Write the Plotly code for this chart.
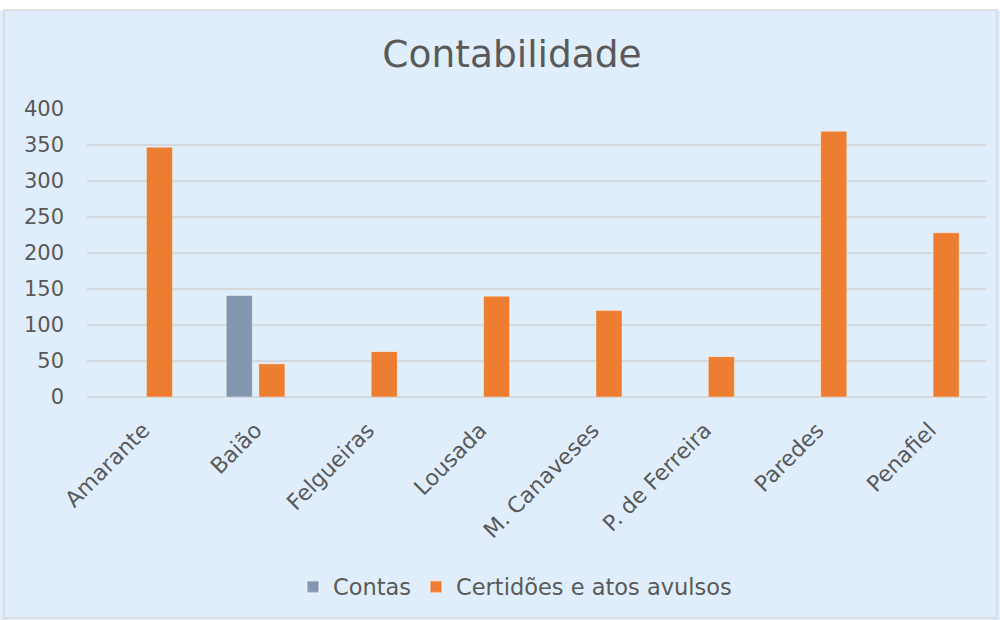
import plotly.graph_objects as go

categories = ["Amarante", "Baião", "Felgueiras", "Lousada", "M. Canaveses",
              "P. de Ferreira", "Paredes", "Penafiel"]
contas = [None, 141, None, None, None, None, None, None]
certidoes = [347, 46, 63, 140, 120, 56, 369, 228]
y_ticks = [0, 50, 100, 150, 200, 250, 300, 350, 400]

FONT = "DejaVu Sans, Century Gothic, sans-serif"
TXT = "#595959"
BG = "#E0EEFB"

fig = go.Figure()
fig.add_trace(go.Bar(name="Contas", x=categories, y=contas,
                     marker=dict(color="#8497B0", line=dict(color="rgba(255,255,255,0.4)", width=1))))
fig.add_trace(go.Bar(name="Certidões e atos avulsos", x=categories, y=certidoes,
                     marker=dict(color="#ED7D31", line=dict(color="rgba(255,255,255,0.4)", width=1))))

fig.update_layout(
    width=1000, height=620,
    margin=dict(l=87, r=14, t=109, b=223),
    paper_bgcolor=BG, plot_bgcolor=BG,
    barmode="group", bargap=0.42, bargroupgap=0.2,
    font=dict(family=FONT, color=TXT, size=21),
    title=dict(text="Contabilidade", x=0.512, xanchor="center", y=0.913, yanchor="middle",
               font=dict(size=37.5, color=TXT, family=FONT)),
    showlegend=True,
    legend=dict(orientation="h", x=0.476, xanchor="center", y=-0.66, yanchor="middle",
                font=dict(size=22.5, color=TXT), bgcolor="rgba(0,0,0,0)",
                itemwidth=30, itemsizing="constant"),
    xaxis=dict(tickangle=-45, showgrid=False, zeroline=False, showline=False,
               ticklabelstandoff=15, tickfont=dict(size=22, color=TXT)),
    yaxis=dict(range=[0, 400], tickvals=y_ticks, showgrid=True, gridcolor="#D5D9DE",
               gridwidth=1.5, zeroline=True, zerolinecolor="#D5D9DE", zerolinewidth=1.5,
               showline=False, ticklabelstandoff=22, tickfont=dict(size=21, color=TXT)),
    shapes=[
        dict(type="rect", xref="paper", yref="paper", x0=-0.2, x1=1.2, y0=1.344, y1=1.5,
             fillcolor="white", line=dict(width=0), layer="below"),
        dict(type="rect", xref="paper", yref="paper", x0=-0.0923, x1=1.0122, y0=-0.767, y1=1.344,
             fillcolor="rgba(0,0,0,0)", line=dict(color="#D9D9D9", width=1.5), layer="above"),
    ],
)

fig.write_html("out.html", config={"displayModeBar": False},
               post_script="document.body.style.margin='0px';")
